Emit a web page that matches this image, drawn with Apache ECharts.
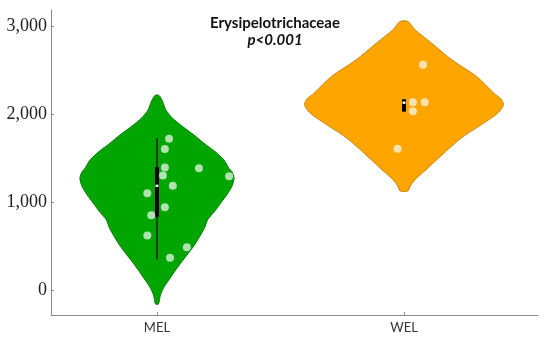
<!DOCTYPE html>
<html>
<head>
<meta charset="utf-8">
<script src="https://cdn.jsdelivr.net/npm/echarts@6.0.0/dist/echarts.min.js"></script>
<style>
  html, body { margin: 0; padding: 0; background: #fff; }
  #main { width: 550px; height: 340px; }
</style>
</head>
<body>
<div id="main"></div>
<script>
// groups on the x axis
var groups = ['MEL', 'WEL'];
var yTicks = [0, 1000, 2000, 3000];

// violin outline: abundance level and half width (x axis units)
var melLevels = [-160, -57, 38, 133, 227, 322, 511, 701, 800, 890, 990, 1080, 1180, 1269, 1340, 1383, 1477, 1572, 1667, 1760, 1856, 1951, 2045, 2140, 2210];
var melHalfWidth = [0.006, 0.014, 0.030, 0.053, 0.076, 0.101, 0.152, 0.192, 0.206, 0.233, 0.259, 0.283, 0.304, 0.312, 0.304, 0.291, 0.271, 0.235, 0.190, 0.150, 0.104, 0.063, 0.036, 0.023, 0.008];
var welLevels = [1125, 1193, 1269, 1344, 1534, 1724, 1875, 1989, 2050, 2108, 2170, 2235, 2424, 2614, 2803, 2955, 3050];
var welHalfWidth = [0.016, 0.028, 0.051, 0.081, 0.154, 0.231, 0.312, 0.372, 0.393, 0.403, 0.393, 0.364, 0.294, 0.194, 0.112, 0.045, 0.016];

// samples and their horizontal jitter
var melValues = [1716, 1602, 1390, 1383, 1299, 1292, 1182, 1098, 940, 849, 617, 485, 364];
var melJitter = [0.049, 0.032, 0.032, 0.170, 0.024, 0.292, 0.064, -0.039, 0.032, -0.023, -0.039, 0.121, 0.053];
var welValues = [2557, 2133, 2133, 2031, 1604];
var welJitter = [0.077, 0.036, 0.084, 0.036, -0.026];

// box summary: whisker low, q1, median, q3, whisker high
var melBox = [349, 830, 1183, 1395, 1723];
var welBox = [2026, 2026, 2127, 2165, 2165];

var violins = [
    { levels: melLevels, half: melHalfWidth, fill: '#00A500', line: '#0d7a0d' },
    { levels: welLevels, half: welHalfWidth, fill: '#FFA500', line: '#c48a1c' }
];

var myChart = echarts.init(document.getElementById('main'));

var dots = [];
melValues.forEach(function (v, i) { dots.push([0 + melJitter[i], v]); });
welValues.forEach(function (v, i) { dots.push([1 + welJitter[i], v]); });

var option = {
    animation: false,
    title: {
        text: 'Erysipelotrichaceae',
        subtext: 'p<0.001',
        left: 'center',
        top: 10,
        itemGap: 0,
        textStyle: { fontFamily: 'Lato', fontWeight: 'bold', fontSize: 15, color: '#111', lineHeight: 17 },
        subtextStyle: { fontFamily: 'Lato', fontWeight: 'bold', fontStyle: 'italic', fontSize: 15, color: '#111', lineHeight: 17 }
    },
    grid: { left: 51, right: 12, top: 10, bottom: 25 },
    xAxis: {
        type: 'value',
        min: -0.429,
        max: 1.5425,
        splitLine: { show: false },
        axisLine: { onZero: false, lineStyle: { color: '#8a8a8a', width: 1 } },
        axisTick: { customValues: [0, 1], inside: true, length: 3, lineStyle: { color: '#8a8a8a' } },
        axisLabel: {
            customValues: [0, 1],
            formatter: function (v) { return groups[Math.round(v)]; },
            fontFamily: 'Lato', fontSize: 13, color: '#333', margin: 6
        }
    },
    yAxis: {
        type: 'value',
        min: -285,
        max: 3180,
        splitLine: { show: false },
        axisLine: { show: true, onZero: false, lineStyle: { color: '#8a8a8a', width: 1 } },
        axisTick: { show: true, customValues: yTicks, inside: true, length: 3, lineStyle: { color: '#8a8a8a' } },
        axisLabel: {
            customValues: yTicks,
            formatter: function (v) { return v.toLocaleString('en-US'); },
            fontFamily: 'Liberation Serif', fontSize: 18, color: '#222', margin: 4
        }
    },
    series: [
        {
            // violins
            type: 'custom',
            data: [[0], [1]],
            renderItem: function (params, api) {
                var g = params.dataIndex;
                var vio = violins[g];
                var pts = [];
                for (var i = 0; i < vio.levels.length; i++) {
                    pts.push(api.coord([g + vio.half[i], vio.levels[i]]));
                }
                for (var j = vio.levels.length - 1; j >= 0; j--) {
                    pts.push(api.coord([g - vio.half[j], vio.levels[j]]));
                }
                return {
                    type: 'polygon',
                    shape: { points: pts, smooth: 0.25 },
                    style: { fill: vio.fill, stroke: vio.line, lineWidth: 1 }
                };
            },
            z: 1
        },
        {
            // box + whisker
            type: 'custom',
            data: [[0].concat(melBox), [1].concat(welBox)],
            renderItem: function (params, api) {
                var g = api.value(0);
                var lo = api.coord([g, api.value(1)]);
                var q1 = api.coord([g, api.value(2)]);
                var md = api.coord([g, api.value(3)]);
                var q3 = api.coord([g, api.value(4)]);
                var hi = api.coord([g, api.value(5)]);
                return {
                    type: 'group',
                    children: [
                        { type: 'line', shape: { x1: lo[0], y1: lo[1], x2: hi[0], y2: hi[1] }, style: { stroke: '#111', lineWidth: 1.4 } },
                        { type: 'rect', shape: { x: q1[0] - 2, y: q3[1], width: 4, height: q1[1] - q3[1] }, style: { fill: '#000' } },
                        { type: 'rect', shape: { x: md[0] - 1.5, y: md[1] - 1.2, width: 3, height: 2.4 }, style: { fill: '#fff' } }
                    ]
                };
            },
            z: 2
        },
        {
            type: 'scatter',
            data: dots,
            symbolSize: 8,
            itemStyle: { color: 'rgba(255,255,255,0.85)' },
            z: 3
        }
    ]
};

myChart.setOption(option);
</script>
</body>
</html>
